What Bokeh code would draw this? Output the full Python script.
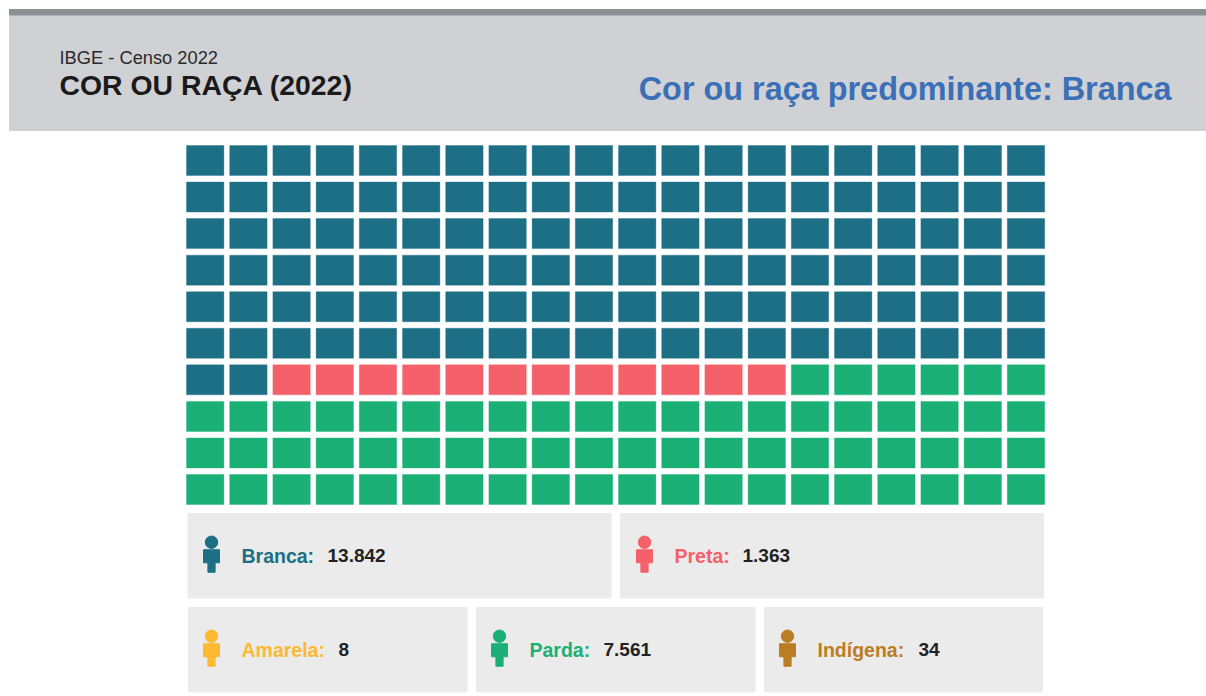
from bokeh.plotting import figure
from bokeh.models import Range1d, ColumnDataSource
from bokeh.core.properties import value
from bokeh.embed import file_html
from bokeh.resources import INLINE

categories = ["Branca", "Preta", "Amarela", "Parda", "Indígena"]
counts = [13842, 1363, 8, 7561, 34]
colors = ["#1c6f85", "#f5616a", "#fdb92f", "#1bb076", "#bb7d23"]
superior = "IBGE - Censo 2022"
title = "COR OU RAÇA (2022)"
subtitle = "Cor ou raça predominante: Branca"

# layout, in page pixels
W, H = 1206, 696
N_CELLS, N_COLS = 200, 20
GRID_X, GRID_Y, PITCH_X, PITCH_Y, CELL_W, CELL_H = 186, 145, 43.2, 36.56, 37.4, 30.0
# category: panel left, right, top, bottom, icon centre x, label x, value x
panels = {
    "Branca": (187.5, 610.5, 513, 597.5, 211, 241, 327),
    "Preta": (620, 1043, 513, 597.5, 644, 674, 742),
    "Amarela": (188, 466.5, 607, 691.5, 211, 241, 338),
    "Parda": (476, 754.5, 607, 691.5, 499, 529, 603),
    "Indígena": (764, 1042, 607, 691.5, 787, 817, 918),
}
FONT = value("Liberation Sans")

# largest-remainder apportionment of the 200 cells
total = sum(counts)
raw = [c / total * N_CELLS for c in counts]
alloc = [int(r) for r in raw]
order = sorted(range(len(raw)), key=lambda i: raw[i] - alloc[i], reverse=True)
for i in order[: N_CELLS - sum(alloc)]:
    alloc[i] += 1
cell_colors = [colors[i] for i, n in enumerate(alloc) for _ in range(n)]

p = figure(width=W, height=H, output_backend="svg", toolbar_location=None,
           x_range=Range1d(0, W), y_range=Range1d(H, 0),
           min_border=0, outline_line_color=None, background_fill_color="white",
           border_fill_color="white", x_axis_location=None, y_axis_location=None)
p.grid.visible = False

# header
p.quad(left=[9], right=[1206], top=[14.5], bottom=[130], color="#d0d1d5")
p.quad(left=[9], right=[1206], top=[9], bottom=[14.5], color="#8c9095")
p.text(x=[59], y=[57], text=[superior], text_font=FONT, text_font_size="18.3px",
       text_color="#2a2a2a", text_baseline="middle")
p.text(x=[59], y=[84.5], text=[title], text_font=FONT, text_font_size="28.4px",
       text_font_style="bold", text_color="#1a1a1a", text_baseline="middle")
p.text(x=[1171], y=[88.5], text=[subtitle], text_font=FONT, text_font_size="32.4px",
       text_font_style="bold", text_color="#3c70b6", text_align="right", text_baseline="middle")

# waffle
lefts = [GRID_X + (k % N_COLS) * PITCH_X for k in range(N_CELLS)]
tops = [GRID_Y + (k // N_COLS) * PITCH_Y for k in range(N_CELLS)]
cells = ColumnDataSource(dict(
    left=lefts, right=[x + CELL_W for x in lefts],
    top=tops, bottom=[y + CELL_H for y in tops], color=cell_colors))
p.quad(left="left", right="right", top="top", bottom="bottom", source=cells,
       fill_color="color", line_color="color", line_alpha=0.35, line_width=1)

# legend panels
for cat, n, col in zip(categories, counts, colors):
    x0, x1, y0, y1, ix, lx, vx = panels[cat]
    p.quad(left=[x0], right=[x1], top=[y0], bottom=[y1], color="#ebebeb")
    ym = (y0 + y1) / 2
    p.scatter(x=[ix], y=[ym - 13.5], size=12.4, marker="circle", color=col)
    p.quad(left=[ix - 8], right=[ix + 8], top=[ym - 6], bottom=[ym + 7], color=col)
    p.quad(left=[ix - 3.6], right=[ix + 3.6], top=[ym + 6], bottom=[ym + 16.5], color=col)
    p.text(x=[lx], y=[ym], text=[cat + ":"], text_font=FONT, text_font_size="19.5px",
           text_font_style="bold", text_color=col, text_baseline="middle")
    p.text(x=[vx], y=[ym], text=[f"{n:,}".replace(",", ".")], text_font=FONT,
           text_font_size="19px", text_font_style="bold", text_color="#222222",
           text_baseline="middle")

open("out.html", "w").write(file_html(p, INLINE))
